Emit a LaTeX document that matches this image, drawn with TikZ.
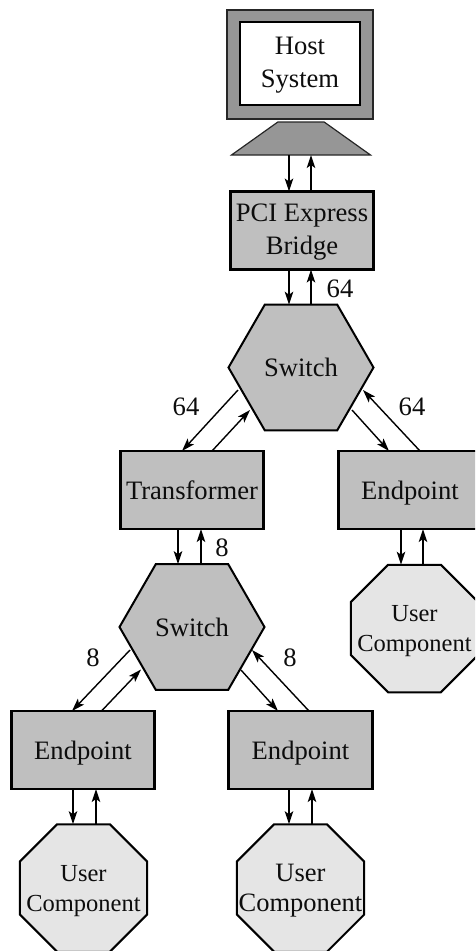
\documentclass[tikz,border=0pt]{standalone}
\usepackage{fontspec}
\setmainfont{Liberation Serif}
\usetikzlibrary{shapes.geometric,arrows.meta,calc}
\tikzset{
  x=1pt,y=-1pt,
  every node/.style={inner sep=0pt,outer sep=0pt,align=center,font=\fontsize{26.6}{33}\selectfont,text=black!95},
  boxnode/.style={draw=black,line width=2.6pt,fill=black!25,minimum width=143.5pt,minimum height=78pt},
  hexnode/.style={regular polygon,regular polygon sides=6,draw=black,line width=2pt,fill=black!25,minimum size=145pt},
  octnode/.style={regular polygon,regular polygon sides=8,draw=black,line width=2pt,fill=black!10,minimum size=138pt,inner sep=-30pt,text depth=0pt},
  octtext/.style={font=\fontsize{24.5}{30}\selectfont},
  link/.style={line width=1.4pt,-{Stealth[length=13pt,width=8.5pt,inset=3pt]}},
  bandlabel/.style={}
}
\begin{document}
\begin{tikzpicture}
\useasboundingbox (0,0) rectangle (475,951);
\clip (0,0) rectangle (475,951);
% host
\node[draw=black!85,line width=2pt,fill=black!41,minimum width=146pt,minimum height=109pt] (monitor) at (300.2,64.2) {};
\node[draw=black,line width=2pt,fill=white,minimum width=120.5pt,minimum height=83pt,text depth=2pt] (host) at (300,63.5) {Host\\System};
\node[trapezium,trapezium left angle=45,trapezium right angle=45,trapezium stretches=true,draw=black!85,line width=1.2pt,fill=black!41,inner sep=2pt,minimum width=139pt,minimum height=33pt] (stand) at (301,138.5) {};
\node[boxnode,text depth=3pt] (bridge) at (302,230.5) {PCI Express\\Bridge};
\node[hexnode] (sw1) at (301,367.5) {Switch};
\node[boxnode] (trans) at (192,490) {Transformer};
\node[boxnode,text depth=0pt] (ep1) at (410,490) {Endpoint};
\node[hexnode] (sw2) at (192,627) {Switch};
\node[octnode,octtext,text depth=-3pt] (uc1) at (414.5,628.5) {User\\Component};
\node[boxnode,text depth=0pt] (ep2) at (83,750) {Endpoint};
\node[boxnode,text depth=0pt] (ep3) at (300.5,750) {Endpoint};
\node[octnode,octtext] (uc2) at (83.5,888) {User\\Component};
\node[octnode,font=\fontsize{26.5}{30}\selectfont] (uc3) at (300.5,888) {User\\Component};
% connectors
\draw[link] (stand.south -| 289,0) -- (bridge.north -| 289,0);
\draw[link] (bridge.north -| 311,0) -- (stand.south -| 311,0);
\draw[link] (bridge.south -| 289,0) -- (sw1.north -| 289,0);
\draw[link] (sw1.north -| 311,0) -- (bridge.south -| 311,0);
\draw[link] ($(sw1.center)+(-63,22.5)$) -- ($(trans.north)+(-10,0)$);
\draw[link] ($(trans.north)+(20,0)$) -- ($(sw1.center)+(-51,42.5)$);
\draw[link] ($(sw1.center)+(51,42.5)$) -- ($(ep1.north)+(-21,0)$);
\draw[link] ($(ep1.north)+(10,0)$) -- ($(sw1.center)+(62,22.5)$);
\draw[link] (trans.south -| 178,0) -- (sw2.north -| 178,0);
\draw[link] (sw2.north -| 201,0) -- (trans.south -| 201,0);
\draw[link] (ep1.south -| 401,0) -- (uc1.north -| 401,0);
\draw[link] (uc1.north -| 423,0) -- (ep1.south -| 423,0);
\draw[link] ($(sw2.center)+(-62,23)$) -- ($(ep2.north)+(-11,0)$);
\draw[link] ($(ep2.north)+(18.5,0)$) -- ($(sw2.center)+(-51,42.5)$);
\draw[link] ($(sw2.center)+(49,43)$) -- ($(ep3.north)+(-22.5,0)$);
\draw[link] ($(ep3.north)+(8.5,0)$) -- ($(sw2.center)+(60,23)$);
\draw[link] (ep2.south -| 73,0) -- (uc2.north -| 73,0);
\draw[link] (uc2.north -| 96,0) -- (ep2.south -| 96,0);
\draw[link] (ep3.south -| 289,0) -- (uc3.north -| 289,0);
\draw[link] (uc3.north -| 312,0) -- (ep3.south -| 312,0);
% labels
\node[bandlabel] (l1) at (340,289) {64};
\node[bandlabel] (l2) at (186,407) {64};
\node[bandlabel] (l3) at (412,407) {64};
\node[bandlabel] (l4) at (222,548) {8};
\node[bandlabel] (l5) at (93,658) {8};
\node[bandlabel] (l6) at (290,658) {8};
\end{tikzpicture}
\end{document}
